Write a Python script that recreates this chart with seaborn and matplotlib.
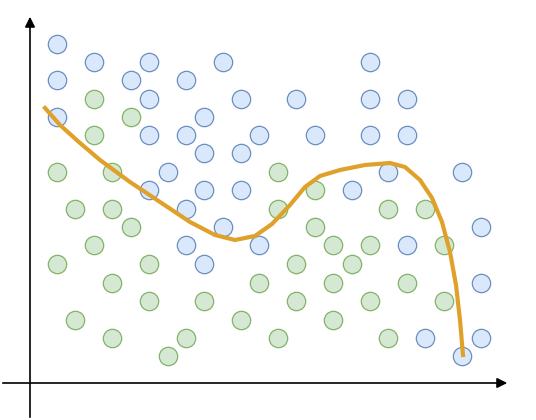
import matplotlib
matplotlib.use("Agg")
import matplotlib.pyplot as plt
import seaborn as sns
import pandas as pd

# circle centres (pixel coords, y downwards)
blue_x = [57, 94, 149, 223, 370, 57, 131, 186, 149, 241, 296, 370, 407, 57, 204,
          149, 186, 259, 315, 370, 407, 204, 241, 168, 388, 462, 149, 204, 241, 352,
          186, 223, 481, 186, 259, 407, 204, 481, 425, 481, 462]
blue_y = [44, 62, 62, 62, 62, 80, 80, 80, 99, 99, 99, 99, 99, 117, 117,
          135, 135, 135, 135, 135, 135, 153, 153, 172, 172, 172, 190, 190, 190, 190,
          209, 227, 227, 245, 245, 245, 264, 283, 338, 338, 356]
green_x = [94, 131, 94, 57, 112, 278, 315, 75, 112, 278, 388, 425, 131, 315,
           94, 333, 370, 444, 57, 149, 296, 352, 112, 259, 333, 407,
           149, 204, 296, 370, 444, 75, 241, 333, 112, 186, 278, 388, 168]
green_y = [99, 117, 135, 172, 172, 172, 190, 209, 209, 209, 209, 209, 227, 227,
           245, 245, 245, 245, 264, 264, 264, 264, 283, 283, 283, 283,
           301, 301, 301, 301, 301, 320, 320, 320, 338, 338, 338, 338, 356]
curve_x = [45, 60, 80, 100, 130, 160, 190, 215, 235, 255, 272, 290, 305, 320, 340,
           365, 390, 405, 420, 432, 442, 450, 456, 460, 463]
curve_y = [108, 125, 143, 160, 182, 202, 222, 235, 240, 236, 224, 205, 187, 176, 170,
           165, 163, 167, 180, 198, 222, 252, 285, 320, 355]

fig = plt.figure(figsize=(5.36, 4.2), dpi=100)
ax = fig.add_axes([0, 0, 1, 1])
ax.set_xlim(0, 536)
ax.set_ylim(420, 0)
ax.axis("off")

sns.scatterplot(x=blue_x, y=blue_y, ax=ax, s=175, color="#dae8fc",
                edgecolor="#6c8ebf", linewidth=0.9, zorder=2)
sns.scatterplot(x=green_x, y=green_y, ax=ax, s=175, color="#d5e8d4",
                edgecolor="#82b366", linewidth=0.9, zorder=2)
curve = pd.DataFrame({"x": curve_x, "y": curve_y})
sns.lineplot(data=curve, x="x", y="y", sort=False, ax=ax, color="#e0a12a",
             linewidth=3, zorder=3)

arrow = dict(arrowstyle="-|>", color="black", lw=1.2, mutation_scale=15)
ax.annotate("", xy=(30, 14), xytext=(30, 420), arrowprops=arrow)
ax.annotate("", xy=(510, 383), xytext=(0, 383), arrowprops=arrow)

fig.savefig("out.png", dpi=100, facecolor="white")
